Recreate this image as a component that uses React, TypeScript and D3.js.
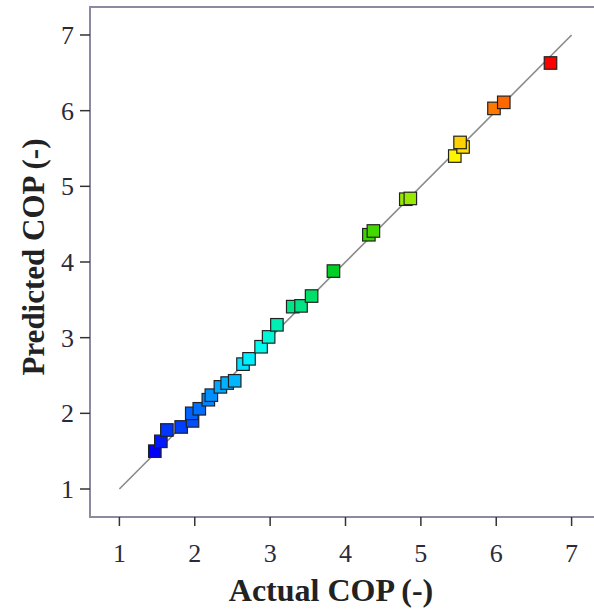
import React from "react";
import * as d3 from "d3";

// Actual vs predicted coefficient of performance
const actualCOP = [
  1.47, 1.55, 1.63, 1.82, 1.97, 1.96, 2.06, 2.18, 2.22, 2.34, 2.43, 2.53,
  2.64, 2.72, 2.88, 2.98, 3.09, 3.30, 3.41, 3.55, 3.84, 4.31, 4.37, 4.80,
  4.86, 5.45, 5.56, 5.52, 5.97, 6.10, 6.72,
];
const predictedCOP = [
  1.50, 1.63, 1.78, 1.82, 1.90, 2.00, 2.06, 2.18, 2.24, 2.35, 2.40, 2.43,
  2.65, 2.72, 2.88, 3.01, 3.17, 3.41, 3.42, 3.55, 3.88, 4.36, 4.41, 4.83,
  4.84, 5.40, 5.52, 5.58, 6.03, 6.11, 6.63,
];
const tickValues = [1, 2, 3, 4, 5, 6, 7];
const colorStops = [1.5, 2.8, 4.07, 5.35, 6.63];
const colorRange = ["#0000ff", "#00ffff", "#00c800", "#ffff00", "#ff0000"];

const W = 594;
const H = 614;
const left = 90;
const right = 601;
const top = 7;
const bottom = 517;

export default function App() {
  const x = d3.scaleLinear().domain([0.61, 7.39]).range([left, right]);
  const y = d3.scaleLinear().domain([0.63, 7.37]).range([bottom, top]);
  const color = d3
    .scaleLinear<string>()
    .domain(colorStops)
    .range(colorRange)
    .interpolate(d3.interpolateRgb);

  const points = actualCOP.map((a, i) => ({ a, p: predictedCOP[i] }));
  const size = 12.5;
  const font = "'Liberation Serif', 'Times New Roman', serif";

  return (
    <svg
      width={W}
      height={H}
      style={{ position: "absolute", left: 0, top: 0, background: "#fff" }}
    >
      <rect x={0} y={0} width={W} height={H} fill="#fff" />
      {/* frame */}
      <rect
        x={left}
        y={top}
        width={right - left}
        height={bottom - top}
        fill="none"
        stroke="#8a8aa0"
        strokeWidth={2}
      />
      {/* x ticks */}
      {tickValues.map((t) => (
        <g key={"x" + t}>
          <line x1={x(t)} x2={x(t)} y1={bottom} y2={bottom + 9} stroke="#333" strokeWidth={1.5} />
          <text
            x={x(t)}
            y={bottom + 45}
            textAnchor="middle"
            fontFamily={font}
            fontSize={26}
            fill="#2a2a3a"
          >
            {t}
          </text>
        </g>
      ))}
      {/* y ticks */}
      {tickValues.map((t) => (
        <g key={"y" + t}>
          <line x1={left - 10} x2={left} y1={y(t)} y2={y(t)} stroke="#333" strokeWidth={1.5} />
          <text
            x={left - 16}
            y={y(t) + 9}
            textAnchor="end"
            fontFamily={font}
            fontSize={26}
            fill="#2a2a3a"
          >
            {t}
          </text>
        </g>
      ))}
      {/* 1:1 reference line */}
      <line
        x1={x(1)}
        y1={y(1)}
        x2={x(7)}
        y2={y(7)}
        stroke="#8a8a8a"
        strokeWidth={1.6}
      />
      {/* points */}
      {points.map((d, i) => (
        <rect
          key={i}
          x={x(d.a) - size / 2}
          y={y(d.p) - size / 2}
          width={size}
          height={size}
          fill={color(d.p)}
          stroke="#222"
          strokeWidth={1.2}
        />
      ))}
      {/* axis titles */}
      <text
        x={331}
        y={601}
        textAnchor="middle"
        fontFamily={font}
        fontWeight="bold"
        fontSize={32}
        fill="#222"
      >
        Actual COP (-)
      </text>
      <text
        transform={`translate(44, 257) rotate(-90)`}
        textAnchor="middle"
        fontFamily={font}
        fontWeight="bold"
        fontSize={31}
        fill="#222"
      >
        Predicted COP (-)
      </text>
    </svg>
  );
}
